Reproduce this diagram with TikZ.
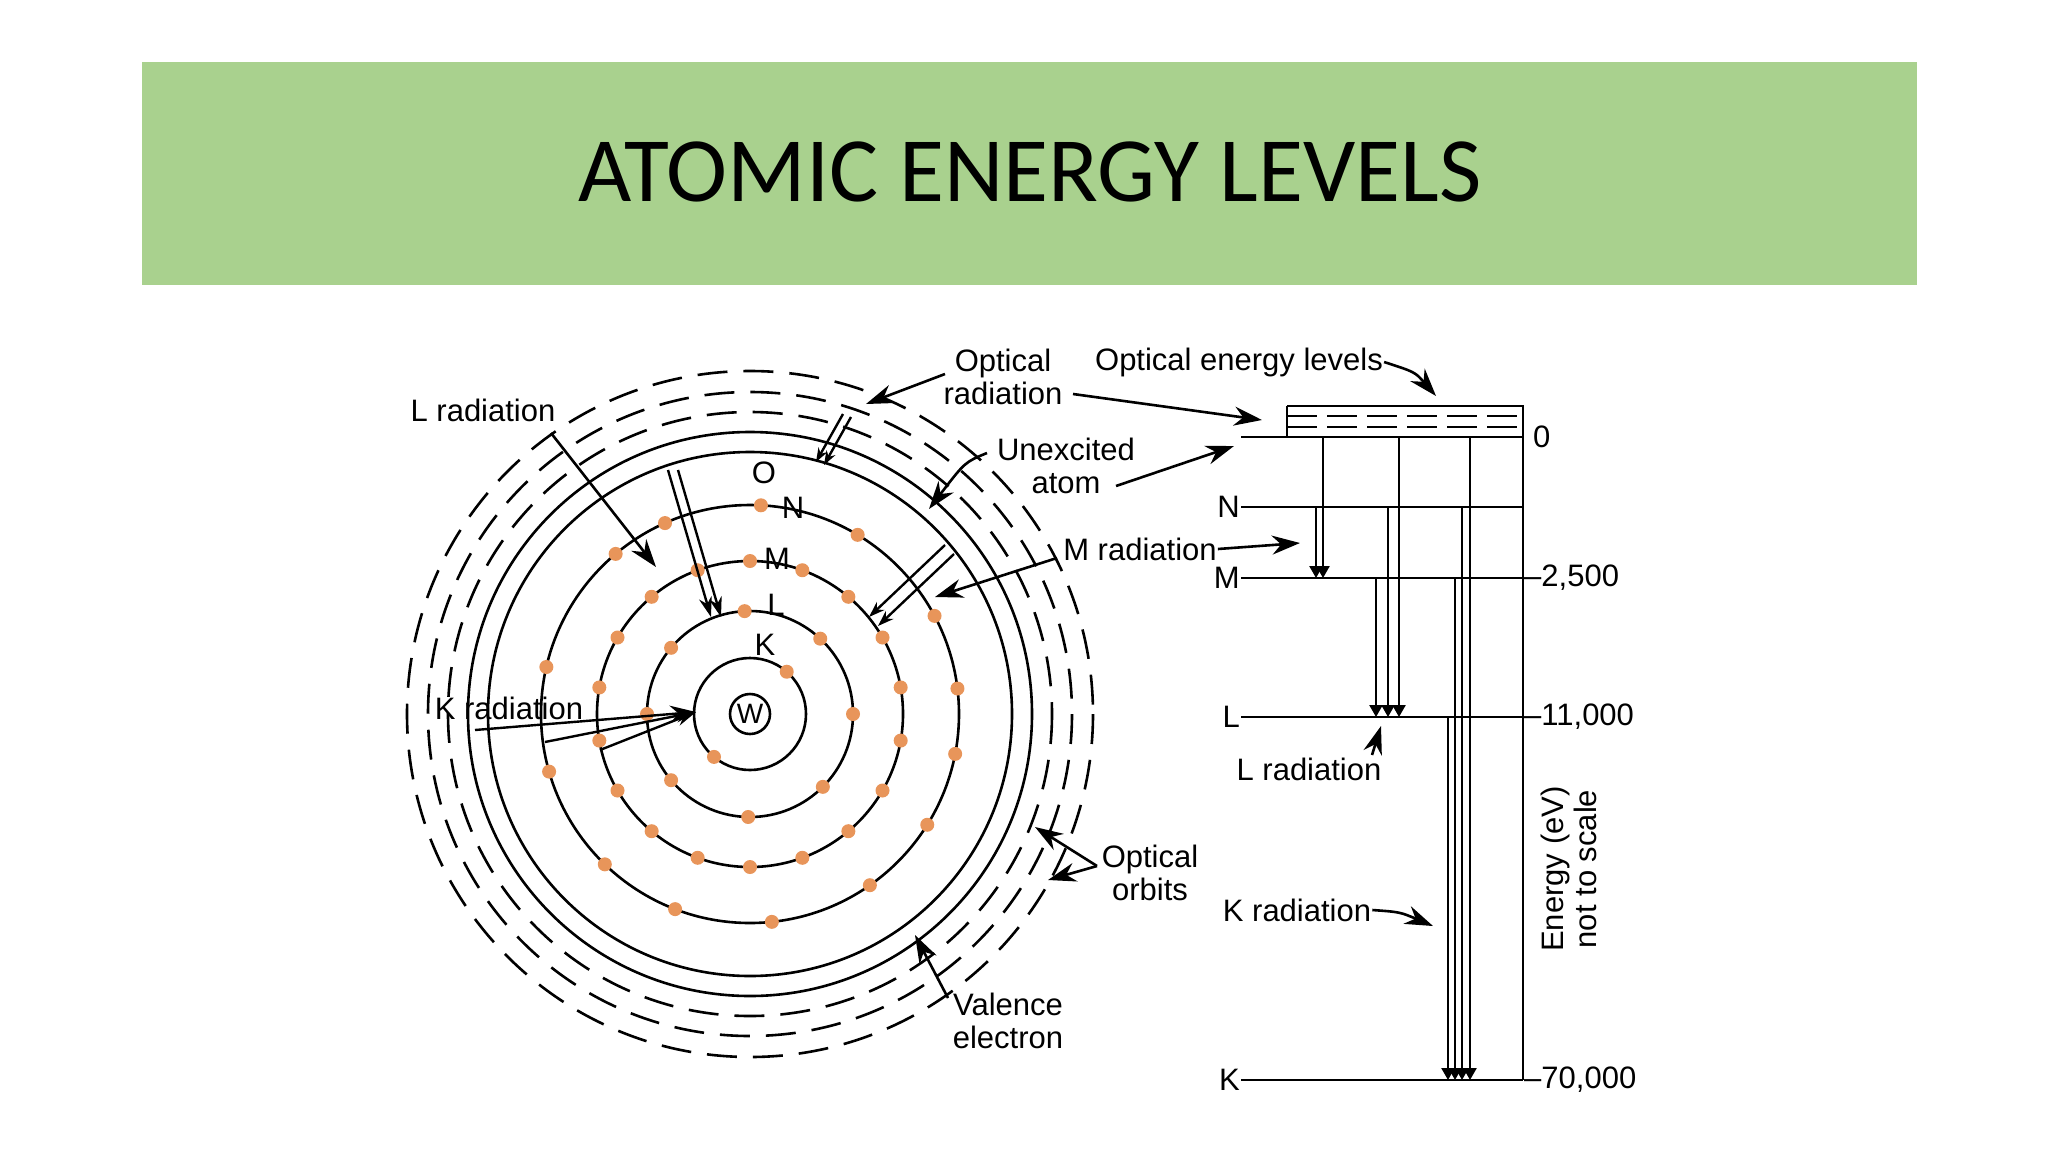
\documentclass[tikz,border=0pt]{standalone}
\usepackage{fontspec}
\setmainfont{Liberation Sans}
\newfontfamily\titlefont{Carlito}
\usetikzlibrary{arrows.meta,calc}
\definecolor{banner}{HTML}{A9D18E}
\definecolor{elec}{HTML}{E8955A}
\tikzset{
 lbl/.style={font=\fontsize{31}{33}\selectfont, align=center, inner sep=1pt},
 orb/.style={line width=2.6pt},
 dorb/.style={line width=2.6pt, dash pattern=on 30pt off 16pt},
 arr/.style={line width=2.6pt, -{Stealth[length=28pt,width=19pt]}},
 lev/.style={line width=2.6pt},
 ln/.style={line width=2.4pt},
 dot/.style={circle, fill=elec, inner sep=0pt, minimum size=14pt}
}
\begin{document}
\begin{tikzpicture}[x=1pt,y=-1pt]
\useasboundingbox (0,0) rectangle (2048,1152);
\fill[white] (0,0) rectangle (2048,1152);
\fill[banner] (142,62) rectangle (1917,285);
\node[font=\titlefont\fontsize{92}{96}\selectfont] (title) at (1030,172) {ATOMIC ENERGY LEVELS};
% atom
\coordinate (c) at (750,714);
\draw[orb] (c) circle (20);
\node[font=\fontsize{28}{30}\selectfont] (w) at (c) {W};
\foreach \r in {56,103,153,209,262,282} \draw[orb] (c) circle (\r);
\foreach \r in {302,322,343} \draw[dorb] (c) circle (\r);
\foreach \a in {49,230} \node[dot] at ([shift={(c)}] \a:56 and -56) {};
\foreach \a in {93,47,0,-45,-91,-140,180,140} \node[dot] at ([shift={(c)}] \a:103 and -103) {};
\foreach \a in {90,70,...,-250} \node[dot] at ([shift={(c)}] \a:153 and -153) {};
\foreach \a in {87,59,28,7,-11,-32,-55,-84,-111,-134,-164,167,130,114} \node[dot] at ([shift={(c)}] \a:209 and -209) {};
\node[lbl] (O) at (764,473) {O};
\node[lbl] (N) at (793,508) {N};
\node[lbl] (M) at (777,559) {M};
\node[lbl] (L) at (776,605) {L};
\node[lbl] (K) at (765,645) {K};
% labels
\node[lbl] (lrad) at (483,410) {L radiation};
\node[lbl] (krad) at (509,708) {K radiation};
\node[lbl] (orad) at (1003,377) {Optical\\radiation};
\node[lbl] (oel) at (1239,362) {Optical energy levels};
\node[lbl] (unex) at (1066,466) {Unexcited\\atom};
\node[lbl] (mrad) at (1140,549) {M radiation};
\node[lbl] (oorb) at (1150,873) {Optical\\orbits};
\node[lbl] (val) at (1008,1021) {Valence\\electron};
\node[lbl,rotate=90] (en) at (1569,869) {Energy (eV)\\not to scale};
% atom arrows
\coordinate (a1) at (551,433); \coordinate (a2) at (656,567);
\draw[arr] (a1) -- (a2);
\coordinate (b1) at (668,470); \coordinate (b2) at (711,617);
\coordinate (b3) at (678,470); \coordinate (b4) at (721,617);
\draw[ln,-{Stealth[length=20pt,width=13pt]}] (b1) -- (b2);
\draw[ln,-{Stealth[length=20pt,width=13pt]}] (b3) -- (b4);
\coordinate (k1) at (475,730); \coordinate (k2) at (696,712);
\coordinate (k3) at (545,742); \coordinate (k4) at (600,750);
\draw[ln,-{Stealth[length=26pt,width=17pt]}] (k1) -- (k2);
\draw[ln,-{Stealth[length=20pt,width=13pt]}] (k3) -- (k2);
\draw[ln,-{Stealth[length=20pt,width=13pt]}] (k4) -- (k2);
\coordinate (r1) at (945,374); \coordinate (r2) at (866,404);
\draw[arr] (r1) -- (r2);
\coordinate (s1) at (843,414); \coordinate (s2) at (816,462);
\coordinate (s3) at (851,417); \coordinate (s4) at (824,465);
\draw[ln,-{Stealth[length=14pt,width=10pt]}] (s1) -- (s2);
\draw[ln,-{Stealth[length=14pt,width=10pt]}] (s3) -- (s4);
\coordinate (u1) at (987,453); \coordinate (u2) at (929,509);
\draw[arr] (u1) .. controls (965,462) .. (u2);
\coordinate (m1) at (1057,558); \coordinate (m2) at (935,597);
\draw[arr] (m1) -- (m2);
\coordinate (d1) at (945,545); \coordinate (d2) at (869,617);
\coordinate (d3) at (954,554); \coordinate (d4) at (878,626);
\draw[ln,-{Stealth[length=16pt,width=11pt]}] (d1) -- (d2);
\draw[ln,-{Stealth[length=16pt,width=11pt]}] (d3) -- (d4);
\coordinate (o1) at (1097,866); \coordinate (o2) at (1035,827); \coordinate (o3) at (1048,880);
\draw[arr] (o1) -- (o2);
\draw[arr] (o1) -- (o3);
\coordinate (v1) at (948,998); \coordinate (v2) at (915,935);
\draw[arr] (v1) -- (v2);
% energy diagram
\draw[lev] (1287,406) -- (1523,406) -- (1523,1080);
\draw[lev] (1287,406) -- (1287,437);
\draw[lev,dash pattern=on 30pt off 10pt] (1287,416) -- (1523,416);
\draw[lev,dash pattern=on 30pt off 10pt] (1287,427) -- (1523,427);
\draw[lev] (1241,437) -- (1523,437);
\foreach \y/\n in {507/N,578/M,717/L,1080/K} {
  \draw[lev] (1241,\y) -- (1523,\y);
  \node[lbl,anchor=east] (lv\n) at (1241,\y) {\n};
}
\node[lbl,anchor=west] (z0) at (1532,437) {0};
\node[lbl,anchor=west] (z1) at (1523,578) {–2,500};
\node[lbl,anchor=west] (z2) at (1523,717) {–11,000};
\node[lbl,anchor=west] (z3) at (1523,1080) {–70,000};
\tikzset{tr/.style={ln,-{Triangle[length=12pt,width=13pt]}}}
\draw[tr] (1316,507) -- (1316,578);
\draw[tr] (1323,437) -- (1323,578);
\draw[tr] (1376,578) -- (1376,717);
\draw[tr] (1388,507) -- (1388,717);
\draw[tr] (1399,437) -- (1399,717);
\draw[tr] (1448,717) -- (1448,1080);
\draw[tr] (1455,578) -- (1455,1080);
\draw[tr] (1462,507) -- (1462,1080);
\draw[tr] (1470,437) -- (1470,1080);
\node[lbl] (lr2) at (1309,769) {L radiation};
\node[lbl] (kr2) at (1297,910) {K radiation};
\draw[arr] (1372,755) -- (1381,726);
\draw[arr] (kr2.east) .. controls (1400,912) .. (1433,926);
\draw[arr] (1073,394) -- (1262,420);
\draw[arr] (1116,486) -- (1234,446);
\draw[arr] (mrad.east) -- (1300,543);
\draw[arr] (oel.east) .. controls (1415,372) .. (1436,396);
\end{tikzpicture}
\end{document}
